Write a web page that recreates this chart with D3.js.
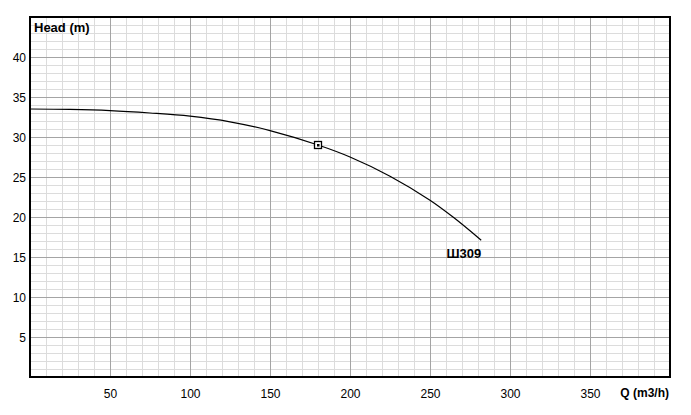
<!DOCTYPE html>
<html><head><meta charset="utf-8">
<script src="https://cdn.jsdelivr.net/npm/d3@7"></script>
<style>html,body{margin:0;padding:0;background:#fff;}svg{display:block;}</style>
</head><body>
<script>
const flowQ = [0, 25, 50, 75, 100, 125, 150, 180, 200, 225, 250, 265, 282];
const headH = [33.5, 33.45, 33.3, 33.0, 32.6, 31.9, 30.8, 29.0, 27.5, 25.1, 22.1, 19.9, 17.1];
const xTicks = [50, 100, 150, 200, 250, 300, 350];
const yTicks = [5, 10, 15, 20, 25, 30, 35, 40];
const dutyPoint = {q: 180, h: 29.0};
const curveName = "Ш309";
const xTitle = "Q (m3/h)";
const yTitle = "Head (m)";

const W = 691, H = 415;
const svg = d3.select("body").append("svg").attr("width", W).attr("height", H);
const x = d3.scaleLinear().domain([0, 400]).range([30, 670]);
const y = d3.scaleLinear().domain([0, 45]).range([377, 17]);

const g = svg.append("g");
// minor grid
g.selectAll(".vminor").data(d3.range(10, 400, 10).filter(v => v % 50 !== 0)).enter().append("line")
  .attr("x1", d => Math.round(x(d)) + 0.5).attr("x2", d => Math.round(x(d)) + 0.5)
  .attr("y1", y(45)).attr("y2", y(0)).attr("stroke", "#dcdcdc").attr("stroke-width", 1);
g.selectAll(".hminor").data(d3.range(1, 45, 1).filter(v => v % 5 !== 0)).enter().append("line")
  .attr("y1", d => Math.round(y(d)) + 0.5).attr("y2", d => Math.round(y(d)) + 0.5)
  .attr("x1", x(0)).attr("x2", x(400)).attr("stroke", "#dcdcdc").attr("stroke-width", 1);
// major grid
g.selectAll(".vmajor").data(d3.range(50, 400, 50)).enter().append("line")
  .attr("x1", d => Math.round(x(d)) + 0.5).attr("x2", d => Math.round(x(d)) + 0.5)
  .attr("y1", y(45)).attr("y2", y(0)).attr("stroke", "#a4a4a4").attr("stroke-width", 1);
g.selectAll(".hmajor").data(d3.range(5, 45, 5)).enter().append("line")
  .attr("y1", d => Math.round(y(d)) + 0.5).attr("y2", d => Math.round(y(d)) + 0.5)
  .attr("x1", x(0)).attr("x2", x(400)).attr("stroke", "#a4a4a4").attr("stroke-width", 1);

// frame
svg.append("rect").attr("x", x(0)).attr("y", y(45)).attr("width", x(400) - x(0)).attr("height", y(0) - y(45))
  .attr("fill", "none").attr("stroke", "#000").attr("stroke-width", 2);

// axes labels
const font = "Arial, 'Liberation Sans', sans-serif";
const xAxis = d3.axisBottom(x).tickValues(xTicks).tickSize(0).tickPadding(0);
const xa = svg.append("g").attr("transform", `translate(0,${y(0)})`).call(xAxis);
xa.select(".domain").remove();
xa.selectAll("text").attr("y", 21).attr("dy", null).attr("font-family", font).attr("font-size", 12).attr("fill", "#000");

const yAxis = d3.axisLeft(y).tickValues(yTicks).tickSize(0).tickPadding(0);
const ya = svg.append("g").attr("transform", `translate(26,0)`).call(yAxis);
ya.select(".domain").remove();
ya.selectAll("text").attr("x", 0).attr("dy", "0.35em").attr("font-family", font).attr("font-size", 12).attr("fill", "#000");

svg.append("text").attr("x", 34).attr("y", 32).text(yTitle)
  .attr("font-family", font).attr("font-size", 13).attr("font-weight", "bold");
svg.append("text").attr("x", 669).attr("y", 397).attr("text-anchor", "end").text(xTitle)
  .attr("font-family", font).attr("font-size", 12).attr("font-weight", "bold");

// curve
const pts = flowQ.map((q, i) => [q, headH[i]]);
const line = d3.line().x(d => x(d[0])).y(d => y(d[1])).curve(d3.curveCatmullRom.alpha(0.5));
svg.append("path").datum(pts).attr("d", line).attr("fill", "none").attr("stroke", "#000").attr("stroke-width", 1.2);

// duty point marker
const px = x(dutyPoint.q), py = y(dutyPoint.h);
svg.append("rect").attr("x", Math.round(px) - 3.5).attr("y", Math.round(py) - 3.5).attr("width", 7).attr("height", 7)
  .attr("fill", "#fff").attr("stroke", "#000").attr("stroke-width", 1.3);
svg.append("rect").attr("x", Math.round(px) - 1).attr("y", Math.round(py) - 1).attr("width", 2.5).attr("height", 2.5).attr("fill", "#000");

// curve label
const last = pts[pts.length - 1];
svg.append("text").attr("x", x(last[0])).attr("y", y(last[1]) + 18).attr("text-anchor", "end").text(curveName)
  .attr("font-family", font).attr("font-size", 13).attr("font-weight", "bold");
</script>
</body></html>
